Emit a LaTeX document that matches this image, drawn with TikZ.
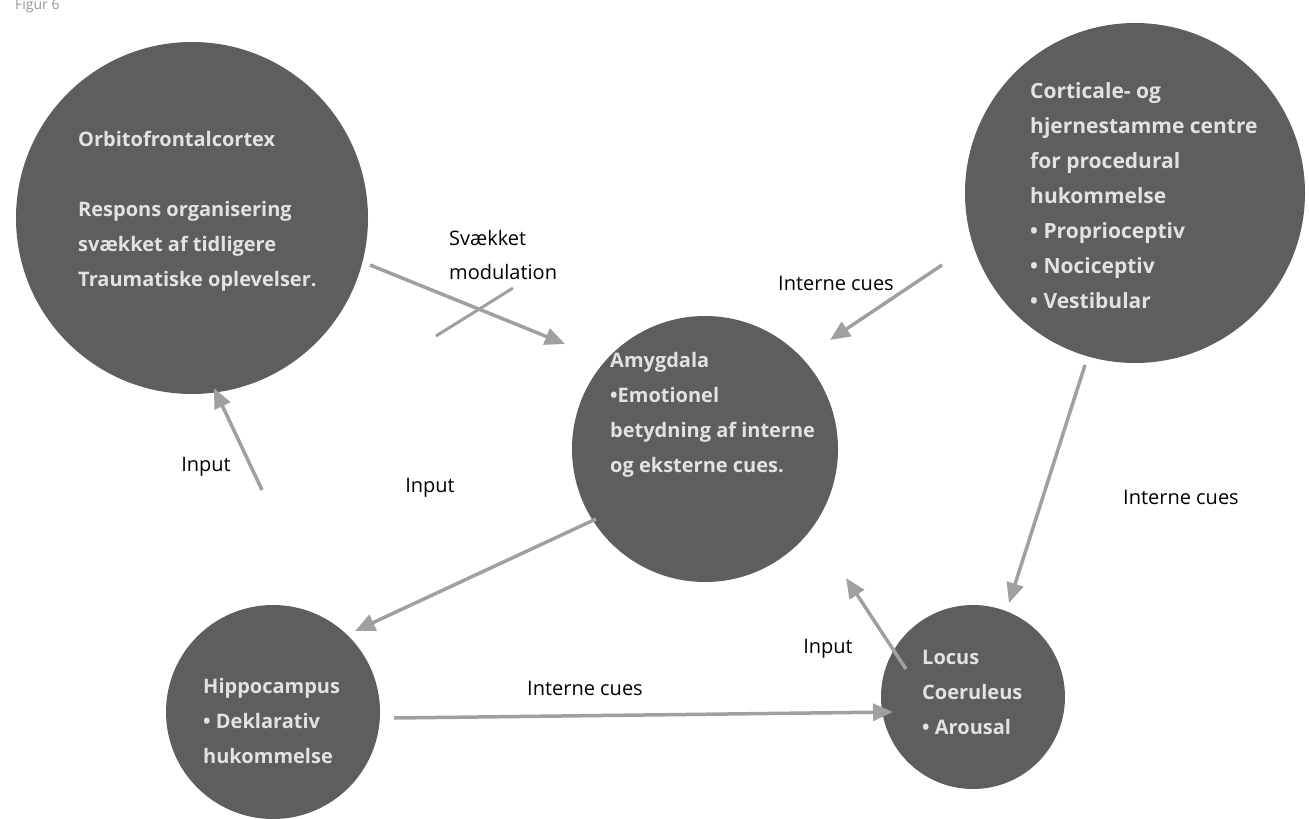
\documentclass[tikz,border=0pt]{standalone}
\usepackage{fontspec}
\setmainfont{Open Sans}
\usetikzlibrary{arrows.meta}
\definecolor{bubblefill}{HTML}{5E5E5E}
\definecolor{bubbletext}{HTML}{E2E2E2}
\definecolor{arrowgray}{HTML}{A0A0A0}
\tikzset{
  bubble/.style={circle, fill=bubblefill, inner sep=0pt},
  btext/.style={anchor=west, align=left, inner sep=0pt, text=bubbletext,
    font=\fontsize{20}{35}\selectfont\bfseries},
  lbl/.style={inner sep=0pt, text=black, font=\fontsize{20}{34}\selectfont},
  conn/.style={draw=arrowgray, line width=3.5pt,
    -{Triangle[length=20pt,width=17pt]}},
  crossline/.style={draw=arrowgray, line width=3pt}
}
\begin{document}
\begin{tikzpicture}[x=1pt,y=-1pt]
\useasboundingbox (0,0) rectangle (1309,819);

% title
\node[anchor=west, inner sep=0pt, text=black!40, font=\fontsize{14}{16}\selectfont] (title) at (15,6) {Figur 6};

% circles
\node[bubble, minimum size=352pt] (ofc) at (192,218) {};
\node[bubble, minimum size=340pt] (cort) at (1135,193) {};
\node[bubble, minimum size=266pt] (amy) at (705,449) {};
\node[bubble, minimum size=214pt] (hip) at (273,712) {};
\node[bubble, minimum size=184pt] (lc) at (973,697) {};

% circle texts
\node[btext] (ofct) at (78,211) {Orbitofrontalcortex\\[35pt]Respons organisering\\svækket af tidligere\\Traumatiske oplevelser.};
\node[btext, font=\fontsize{21}{35}\selectfont\bfseries] (cortt) at (1030,196) {Corticale- og\\hjernestamme centre\\for procedural\\hukommelse\\• Proprioceptiv\\• Nociceptiv\\• Vestibular};
\node[btext] (amyt) at (610,415) {Amygdala\\•Emotionel\\betydning af interne\\og eksterne cues.};
\node[btext] (hipt) at (203,721) {Hippocampus\\• Deklarativ\\hukommelse};
\node[btext] (lct) at (922,692) {Locus\\Coeruleus\\• Arousal};

% connector end points
\coordinate (a1s) at (370,265);
\coordinate (a1e) at (565,344);
\coordinate (x1s) at (436,336);
\coordinate (x1e) at (513,288);
\coordinate (a2s) at (942,265);
\coordinate (a2e) at (830,340);
\coordinate (a3s) at (1085,365);
\coordinate (a3e) at (1009,603);
\coordinate (a4s) at (596,519);
\coordinate (a4e) at (355,631);
\coordinate (a5s) at (262,490);
\coordinate (a5e) at (214,388);
\coordinate (a6s) at (394,718);
\coordinate (a6e) at (893,712);
\coordinate (a7s) at (906,669);
\coordinate (a7e) at (846,578);

% connectors
\draw[conn] (a1s) -- (a1e);
\draw[crossline] (x1s) -- (x1e);
\draw[conn] (a2s) -- (a2e);
\draw[conn] (a3s) -- (a3e);
\draw[conn] (a4s) -- (a4e);
\draw[conn] (a5s) -- (a5e);
\draw[conn] (a6s) -- (a6e);
\draw[conn] (a7s) -- (a7e);

% labels
\node[lbl, anchor=west, align=left] (l1) at (449,255) {Svækket\\modulation};
\node[lbl] (l2) at (836,283) {Interne cues};
\node[lbl] (l3) at (1181,497) {Interne cues};
\node[lbl] (l4) at (206,467) {Input};
\node[lbl] (l5) at (430,488) {Input};
\node[lbl] (l6) at (585,688) {Interne cues};
\node[lbl] (l7) at (828,649) {Input};
\end{tikzpicture}
\end{document}
